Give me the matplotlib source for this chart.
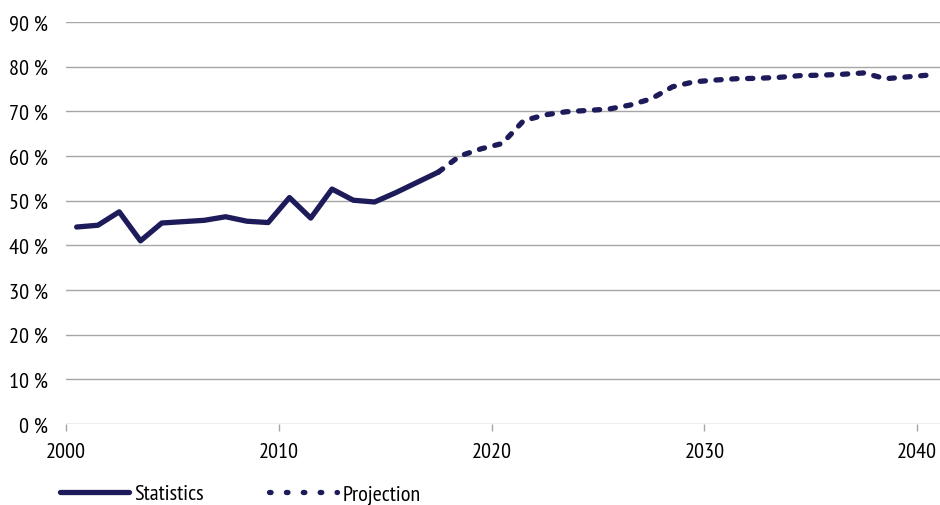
import matplotlib
matplotlib.use("Agg")
import matplotlib.pyplot as plt
from matplotlib.lines import Line2D

plt.rcParams['font.family'] = ['PT Sans Narrow', 'Open Sans Condensed', 'DejaVu Sans']

# data (values in %, points sit mid-year)
stat_years = [y + 0.5 for y in range(2000, 2018)]
stat_vals = [44.1, 44.5, 47.5, 41.0, 45.0, 45.3, 45.6, 46.4, 45.4, 45.1,
             50.7, 46.1, 52.6, 50.1, 49.7, 51.8, 54.1, 56.4]
proj_years = [y + 0.5 for y in range(2017, 2041)]
proj_vals = [56.4, 60.0, 61.6, 62.8, 67.9, 69.2, 69.9, 70.2, 70.5, 71.4,
             72.8, 75.5, 76.6, 77.0, 77.3, 77.4, 77.6, 78.0, 78.1, 78.3,
             78.6, 77.3, 77.7, 78.1]
yticks = [0, 10, 20, 30, 40, 50, 60, 70, 80, 90]
xticks = [2000, 2010, 2020, 2030, 2040]

navy = '#1e1b5a'
grey = '#a6a6a6'

fig = plt.figure(figsize=(9.4, 5.06), dpi=100)
ax = fig.add_axes([66 / 940, 1 - 425 / 506, 1 - 66 / 940, (425 - 23) / 506])

for v in yticks:
    ax.axhline(v, color=grey, lw=1.0, zorder=1)

ax.plot(stat_years, stat_vals, color=navy, lw=3.8, solid_capstyle='round',
        solid_joinstyle='round', zorder=3)
ax.plot(proj_years, proj_vals, color=navy, lw=3.8, dashes=(1.0, 2.0),
        dash_capstyle='round', zorder=3)

ax.set_xlim(2000, 2041.07)
ax.set_ylim(0, 90)
for s in ax.spines.values():
    s.set_visible(False)
ax.set_yticks(yticks)
ax.set_yticklabels([f'{v} %' for v in yticks], fontsize=16)
ax.tick_params(axis='y', length=0, pad=13)
ax.set_xticks(xticks)
ax.set_xticklabels([str(v) for v in xticks], fontsize=16)
ax.tick_params(axis='x', length=5, color=grey, width=1.0, pad=8)

handles = [Line2D([], [], color=navy, lw=3.8, solid_capstyle='round'),
           Line2D([], [], color=navy, lw=3.8, dashes=(0.3, 2.9), dash_capstyle='round')]
fig.legend(handles, ['Statistics', 'Projection'], loc='center left',
           bbox_to_anchor=(40 / 940, 1 - 495 / 506), ncol=2, frameon=False,
           fontsize=16, handlelength=3.1, handletextpad=0.25, columnspacing=2.9)

fig.savefig('out.png', dpi=100)
